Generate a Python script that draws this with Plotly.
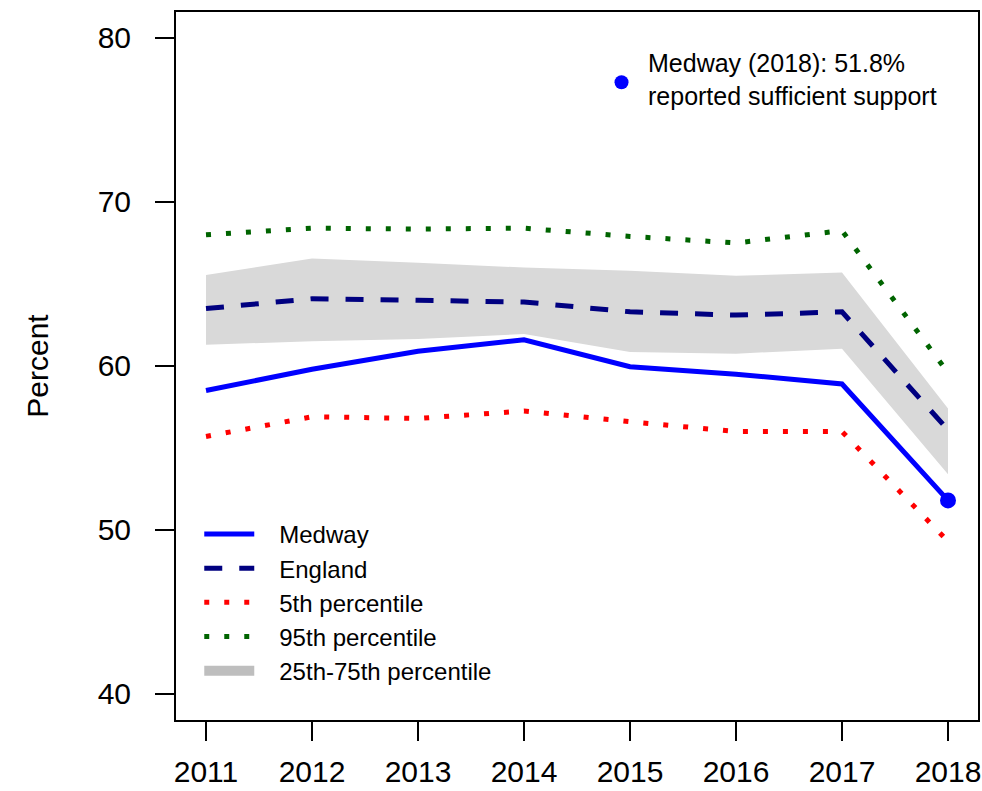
import plotly.graph_objects as go

years = [2011, 2012, 2013, 2014, 2015, 2016, 2017, 2018]
medway = [58.5, 59.8, 60.9, 61.6, 59.95, 59.5, 58.9, 51.8]
england = [63.5, 64.1, 64.0, 63.9, 63.3, 63.1, 63.3, 56.1]
p5 = [55.7, 56.9, 56.8, 57.25, 56.6, 56.0, 56.0, 49.3]
p95 = [68.0, 68.4, 68.35, 68.4, 67.9, 67.5, 68.25, 59.6]
p25 = [61.3, 61.5, 61.65, 61.95, 60.85, 60.75, 61.05, 53.4]
p75 = [65.55, 66.55, 66.3, 66.0, 65.8, 65.5, 65.7, 57.4]
ytick_vals = [40, 50, 60, 70, 80]
note_text = "Medway (2018): 51.8%<br>reported sufficient support"
note_pos = (2014.92, 77.3)

FONT = "Liberation Sans, Arial, sans-serif"
PAD = "\u00a0\u00a0\u00a0"

fig = go.Figure()
# band
fig.add_trace(go.Scatter(x=years, y=p25, mode="lines", line=dict(width=0, color="#D9D9D9"),
                         showlegend=False, hoverinfo="skip"))
fig.add_trace(go.Scatter(x=years, y=p75, mode="lines", line=dict(width=0, color="#D9D9D9"),
                         fill="tonexty", fillcolor="#D9D9D9", showlegend=False, hoverinfo="skip"))

fig.add_trace(go.Scatter(x=years, y=medway, mode="lines", name=PAD + "Medway",
                         line=dict(color="#0000FF", width=5)))
fig.add_trace(go.Scatter(x=years, y=england, mode="lines", name=PAD + "England",
                         line=dict(color="#000080", width=5, dash="18px,17px")))
fig.add_trace(go.Scatter(x=years, y=p5, mode="lines", name=PAD + "5th percentile",
                         line=dict(color="#FF0000", width=5, dash="5px,15px")))
fig.add_trace(go.Scatter(x=years, y=p95, mode="lines", name=PAD + "95th percentile",
                         line=dict(color="#006400", width=5, dash="5px,15px")))
fig.add_trace(go.Scatter(x=[None], y=[None], mode="lines", name=PAD + "25th-75th percentile",
                         line=dict(color="#BEBEBE", width=10)))
# end point marker
fig.add_trace(go.Scatter(x=[years[-1]], y=[medway[-1]], mode="markers", showlegend=False,
                         marker=dict(color="#0000FF", size=16)))
# note marker
fig.add_trace(go.Scatter(x=[note_pos[0]], y=[note_pos[1]], mode="markers", showlegend=False,
                         marker=dict(color="#0000FF", size=14)))
fig.add_annotation(x=2015.15, y=77.46, text=note_text, showarrow=False, xanchor="left",
                   yanchor="middle", align="left", font=dict(size=25, color="black", family=FONT))

fig.update_layout(
    width=982, height=791,
    margin=dict(l=176, r=4, t=12, b=71),
    paper_bgcolor="white", plot_bgcolor="white",
    font=dict(family=FONT, color="black"),
    legend=dict(x=0.029, y=0.294, xanchor="left", yanchor="top", bgcolor="rgba(0,0,0,0)",
                font=dict(size=24), tracegroupgap=0, itemwidth=50, traceorder="normal"),
)
fig.update_xaxes(range=[2010.717, 2018.283], tickvals=years, showgrid=False, zeroline=False,
                 showline=True, linecolor="black", linewidth=2, mirror=True,
                 ticks="outside", ticklen=19, tickwidth=1.5, tickcolor="black",
                 tickfont=dict(size=30), ticklabelstandoff=5, automargin=False)
fig.update_yaxes(range=[38.41, 81.585], tickvals=ytick_vals, showgrid=False, zeroline=False,
                 showline=True, linecolor="black", linewidth=2, mirror=True,
                 ticks="outside", ticklen=19, tickwidth=1.5, tickcolor="black",
                 tickfont=dict(size=30), ticklabelstandoff=18, automargin=False,
                 title=dict(text="Percent", font=dict(size=30), standoff=40))

fig.write_html("out.html", config={"displayModeBar": False},
               post_script="document.body.style.margin='0';")
